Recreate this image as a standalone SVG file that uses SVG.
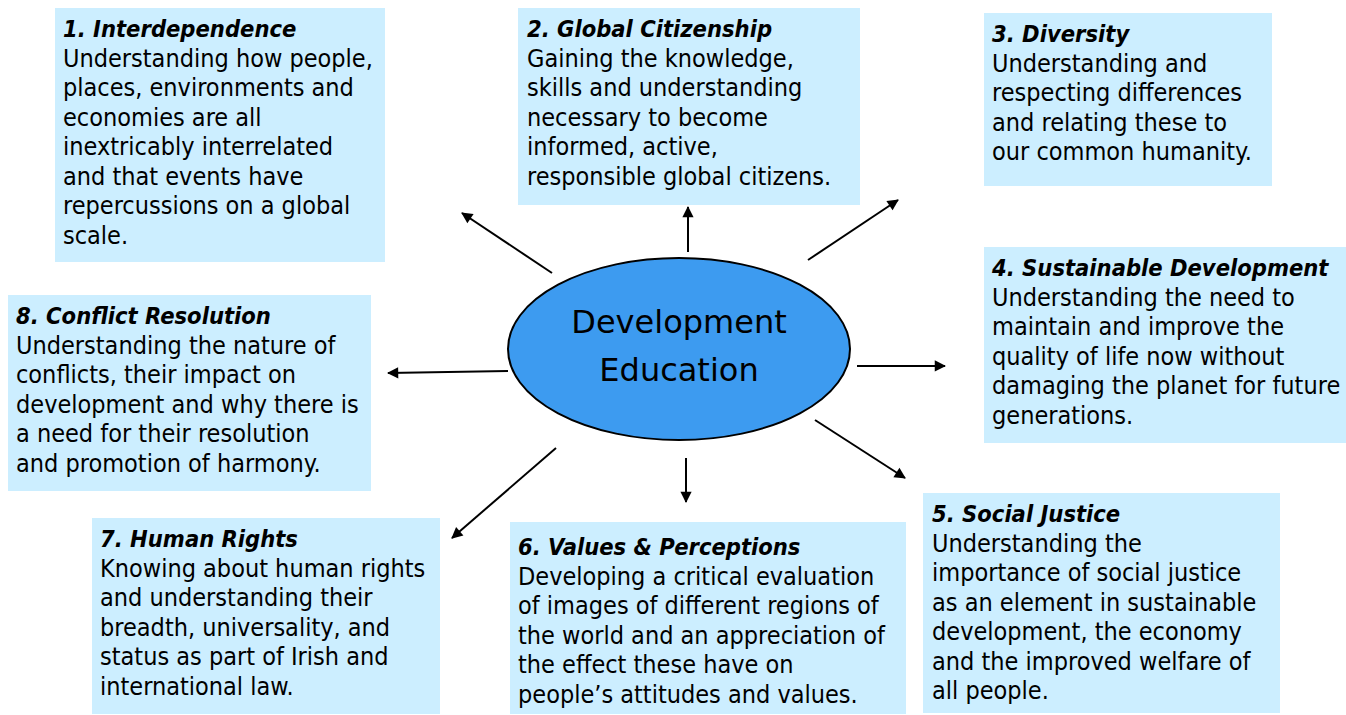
<svg xmlns="http://www.w3.org/2000/svg" width="1346" height="715" viewBox="0 0 1346 715">
<style>
.box{fill:#cceeff}
.t{font-family:"DejaVu Sans Condensed","DejaVu Sans",sans-serif;font-size:25px;fill:#000}
.h{font-weight:bold;font-style:italic;font-size:23.5px}
.c{stroke:#000;stroke-width:2;fill:none;marker-end:url(#ah)}
.e{font-family:"DejaVu Sans",sans-serif;font-size:32px;fill:#000}
</style>
<defs>
<marker id="ah" viewBox="0 0 10 10" refX="9" refY="5" markerWidth="7" markerHeight="7" markerUnits="userSpaceOnUse" orient="auto" style="overflow:visible">
<path d="M0,0 L10,5 L0,10 z" fill="#000" transform="scale(1.6) translate(-3.5,-1.9)"/>
</marker>
</defs>
<rect width="1346" height="715" fill="#fff"/>
<g id="connectors">
<line class="c" x1="552" y1="273" x2="462" y2="213"/>
<line class="c" x1="688" y1="252" x2="688" y2="207"/>
<line class="c" x1="808" y1="260" x2="898" y2="200"/>
<line class="c" x1="857" y1="366" x2="945" y2="366"/>
<line class="c" x1="815" y1="420" x2="905" y2="478"/>
<line class="c" x1="686" y1="458" x2="686" y2="502"/>
<line class="c" x1="556" y1="448" x2="452" y2="538"/>
<line class="c" x1="508" y1="371" x2="388" y2="373"/>
</g>
<g id="center">
<ellipse cx="679" cy="349" rx="171" ry="91" fill="#3d9bf0" stroke="#000" stroke-width="2"/>
<text class="e" x="679" y="333" text-anchor="middle">Development</text>
<text class="e" x="679" y="381" text-anchor="middle">Education</text>
</g>
<g id="n1">
<rect class="box" x="55" y="8" width="330" height="254"/>
<text class="t"><tspan class="h" x="63" y="37">1. Interdependence</tspan><tspan x="63" y="67">Understanding how people,</tspan><tspan x="63" y="96">places, environments and</tspan><tspan x="63" y="126">economies are all</tspan><tspan x="63" y="155">inextricably interrelated</tspan><tspan x="63" y="185">and that events have</tspan><tspan x="63" y="214">repercussions on a global</tspan><tspan x="63" y="244">scale.</tspan></text>
</g>
<g id="n2">
<rect class="box" x="518" y="8" width="342" height="197"/>
<text class="t"><tspan class="h" x="527" y="37">2. Global Citizenship</tspan><tspan x="527" y="67">Gaining the knowledge,</tspan><tspan x="527" y="96">skills and understanding</tspan><tspan x="527" y="126">necessary to become</tspan><tspan x="527" y="155">informed, active,</tspan><tspan x="527" y="185">responsible global citizens.</tspan></text>
</g>
<g id="n3">
<rect class="box" x="984" y="13" width="288" height="173"/>
<text class="t"><tspan class="h" x="992" y="42">3. Diversity</tspan><tspan x="992" y="72">Understanding and</tspan><tspan x="992" y="101">respecting differences</tspan><tspan x="992" y="131">and relating these to</tspan><tspan x="992" y="160">our common humanity.</tspan></text>
</g>
<g id="n4">
<rect class="box" x="984" y="247" width="362" height="196"/>
<text class="t"><tspan class="h" x="992" y="276">4. Sustainable Development</tspan><tspan x="992" y="306">Understanding the need to</tspan><tspan x="992" y="335">maintain and improve the</tspan><tspan x="992" y="365">quality of life now without</tspan><tspan x="992" y="394">damaging the planet for future</tspan><tspan x="992" y="424">generations.</tspan></text>
</g>
<g id="n5">
<rect class="box" x="923" y="493" width="357" height="220"/>
<text class="t"><tspan class="h" x="932" y="522">5. Social Justice</tspan><tspan x="932" y="552">Understanding the</tspan><tspan x="932" y="581">importance of social justice</tspan><tspan x="932" y="611">as an element in sustainable</tspan><tspan x="932" y="640">development, the economy</tspan><tspan x="932" y="670">and the improved welfare of</tspan><tspan x="932" y="699">all people.</tspan></text>
</g>
<g id="n6">
<rect class="box" x="510" y="522" width="396" height="192"/>
<text class="t"><tspan class="h" x="518" y="555">6. Values &amp; Perceptions</tspan><tspan x="518" y="585">Developing a critical evaluation</tspan><tspan x="518" y="614">of images of different regions of</tspan><tspan x="518" y="644">the world and an appreciation of</tspan><tspan x="518" y="673">the effect these have on</tspan><tspan x="518" y="703">people’s attitudes and values.</tspan></text>
</g>
<g id="n7">
<rect class="box" x="92" y="518" width="348" height="196"/>
<text class="t"><tspan class="h" x="100" y="547">7. Human Rights</tspan><tspan x="100" y="577">Knowing about human rights</tspan><tspan x="100" y="606">and understanding their</tspan><tspan x="100" y="636">breadth, universality, and</tspan><tspan x="100" y="665">status as part of Irish and</tspan><tspan x="100" y="695">international law.</tspan></text>
</g>
<g id="n8">
<rect class="box" x="8" y="295" width="363" height="196"/>
<text class="t"><tspan class="h" x="16" y="324">8. Conflict Resolution</tspan><tspan x="16" y="354">Understanding the nature of</tspan><tspan x="16" y="383">conflicts, their impact on</tspan><tspan x="16" y="413">development and why there is</tspan><tspan x="16" y="442">a need for their resolution</tspan><tspan x="16" y="472">and promotion of harmony.</tspan></text>
</g>
</svg>
